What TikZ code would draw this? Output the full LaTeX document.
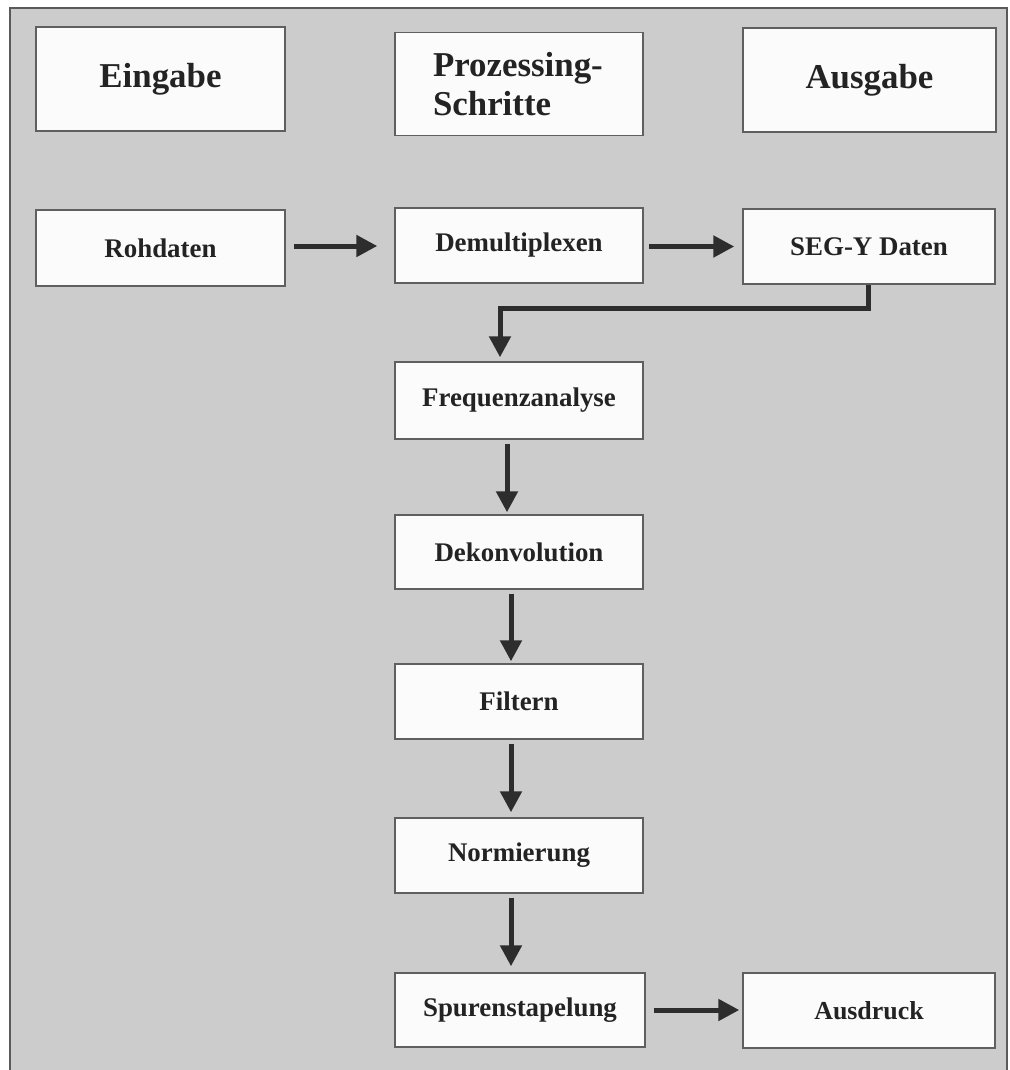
\documentclass[tikz,border=0pt]{standalone}
\usepackage{fontspec}
\setmainfont{Liberation Serif}
\usetikzlibrary{arrows.meta}
\definecolor{bggray}{RGB}{204,204,204}
\definecolor{framegray}{RGB}{90,90,90}
\definecolor{boxline}{RGB}{95,95,95}
\definecolor{arrowgray}{RGB}{45,45,45}
\definecolor{textgray}{RGB}{35,35,35}
\begin{document}
\begin{tikzpicture}[x=1bp,y=-1bp,
  box/.style={draw=boxline, line width=1.4bp, fill=white!97!gray, text=textgray,
    inner sep=0pt, font=\bfseries\fontsize{27}{30}\selectfont},
  headbox/.style={box, font=\bfseries\fontsize{35}{40}\selectfont},
  arr/.style={draw=arrowgray, line width=5bp,
    -{Triangle[length=21bp,width=21bp]}},
]
\useasboundingbox (0,0) rectangle (1010,1070);
\fill[white] (0,0) rectangle (1010,1070);
\begin{scope}
\clip (0,0) rectangle (1010,1070);
\fill[bggray] (10,8) rectangle (1007,1080);
\draw[framegray, line width=2.5bp] (10,1080) -- (10,8) -- (1007,8) -- (1007,1080);
\end{scope}
% header boxes
\node[headbox, minimum width=249bp, minimum height=104bp] (eingabe) at (160.5,79) {Eingabe};
\node[headbox, minimum width=248bp, minimum height=103bp, align=left, text width=172bp] (prozess) at (519,84) {Prozessing-\\Schritte};
\node[headbox, minimum width=253bp, minimum height=104bp] (ausgabe) at (869.5,80) {Ausgabe};
% row 2
\node[box, minimum width=249bp, minimum height=76bp] (roh) at (160.5,248) {Rohdaten};
\node[box, minimum width=248bp, minimum height=75bp] (demux) at (519,245.5) {Demultiplexen};
\node[box, minimum width=252bp, minimum height=75bp] (segy) at (869,246.5) {SEG-Y Daten};
% processing column
\node[box, minimum width=248bp, minimum height=77bp] (freq) at (519,400.5) {Frequenzanalyse};
\node[box, minimum width=248bp, minimum height=74bp] (dekon) at (519,552) {Dekonvolution};
\node[box, minimum width=248bp, minimum height=75bp] (filt) at (519,701.5) {Filtern};
\node[box, minimum width=248bp, minimum height=75bp] (norm) at (519,855.5) {Normierung};
\node[box, minimum width=250bp, minimum height=74bp] (spur) at (520,1010) {Spurenstapelung};
\node[box, minimum width=252bp, minimum height=75bp, font=\bfseries\fontsize{26}{30}\selectfont] (druck) at (869,1010.5) {Ausdruck};
% connectors
\coordinate (c1) at (868,308);
\coordinate (c2) at (500,308);
\draw[arr, shorten <=8bp, shorten >=17bp] ([yshift=2bp]roh.east) -- ([yshift=2bp]roh.east -| demux.west);
\draw[arr, shorten <=5bp, shorten >=8bp] (demux.east |- segy.west) -- (segy.west);
\draw[arr, shorten >=4bp] (segy.south -| c1) -- (c1) -- (c2) -- (c2 |- freq.north);
\draw[arr, shorten <=4bp, shorten >=2bp] ([xshift=-12bp]freq.south) -- ([xshift=-12bp]dekon.north);
\draw[arr, shorten <=4bp, shorten >=2bp] ([xshift=-8bp]dekon.south) -- ([xshift=-8bp]filt.north);
\draw[arr, shorten <=4bp, shorten >=5bp] ([xshift=-8bp]filt.south) -- ([xshift=-8bp]norm.north);
\draw[arr, shorten <=4bp, shorten >=6bp] ([xshift=-8bp]norm.south) -- ([xshift=-9bp]spur.north);
\draw[arr, shorten <=8bp, shorten >=3bp] (spur.east) -- (spur.east -| druck.west);
\end{tikzpicture}
\end{document}
